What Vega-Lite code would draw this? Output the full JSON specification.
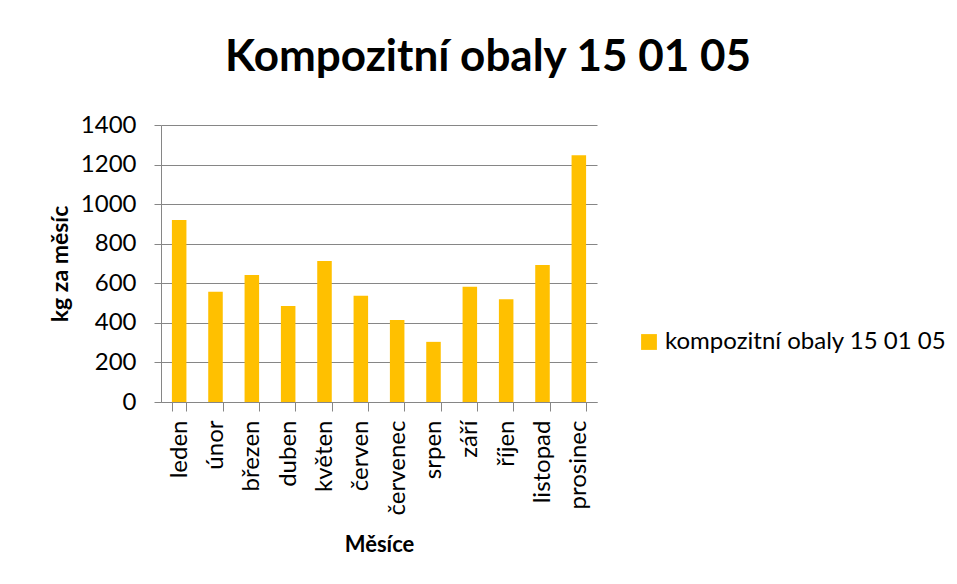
{
  "$schema": "https://vega.github.io/schema/vega-lite/v6.json",
  "width": 436,
  "height": 277,
  "autosize": {"type": "none"},
  "padding": {"left": 161, "top": 125, "right": 360, "bottom": 182},
  "background": "white",
  "config": {
    "font": "Lato",
    "view": {"stroke": null}
  },
  "title": {
    "text": "Kompozitní obaly 15 01 05",
    "font": "Lato",
    "fontSize": 44,
    "fontWeight": "bold",
    "color": "#000000",
    "anchor": "middle",
    "dx": 109,
    "offset": 33
  },
  "data": {
    "values": [
      {"mesic": "leden", "kg": 920},
      {"mesic": "únor", "kg": 557},
      {"mesic": "březen", "kg": 642},
      {"mesic": "duben", "kg": 485},
      {"mesic": "květen", "kg": 713},
      {"mesic": "červen", "kg": 537},
      {"mesic": "červenec", "kg": 414},
      {"mesic": "srpen", "kg": 304},
      {"mesic": "září", "kg": 583},
      {"mesic": "říjen", "kg": 519},
      {"mesic": "listopad", "kg": 693},
      {"mesic": "prosinec", "kg": 1247}
    ]
  },
  "mark": {"type": "bar"},
  "encoding": {
    "x": {
      "field": "mesic",
      "type": "nominal",
      "sort": null,
      "title": "Měsíce",
      "scale": {"paddingInner": 0.6, "paddingOuter": 0.3},
      "axis": {
        "labelAngle": -90,
        "labelAlign": "right",
        "labelBaseline": "middle",
        "labelFontSize": 24,
        "labelColor": "#000000",
        "labelPadding": 9,
        "tickBand": "extent",
        "tickSize": 9,
        "tickColor": "#868686",
        "domainColor": "#868686",
        "titleFontSize": 22,
        "titleFontWeight": "bold",
        "titleColor": "#000000",
        "titlePadding": 20
      }
    },
    "y": {
      "field": "kg",
      "type": "quantitative",
      "title": "kg za měsíc",
      "scale": {"domain": [0, 1400]},
      "axis": {
        "values": [0, 200, 400, 600, 800, 1000, 1200, 1400],
        "format": "d",
        "labelFontSize": 24,
        "labelColor": "#000000",
        "labelPadding": 18,
        "tickSize": 7,
        "tickColor": "#868686",
        "domainColor": "#868686",
        "gridColor": "#868686",
        "titleFontSize": 23,
        "titleFontWeight": "bold",
        "titleColor": "#000000",
        "titlePadding": 8
      }
    },
    "color": {
      "datum": "kompozitní obaly 15 01 05",
      "type": "nominal",
      "scale": {"range": ["#FFC000"]},
      "legend": {
        "title": null,
        "orient": "none",
        "legendX": 476,
        "legendY": 205,
        "symbolType": "square",
        "symbolSize": 250,
        "symbolStrokeWidth": 0,
        "labelFontSize": 24,
        "labelColor": "#000000",
        "labelLimit": 400
      }
    }
  }
}
